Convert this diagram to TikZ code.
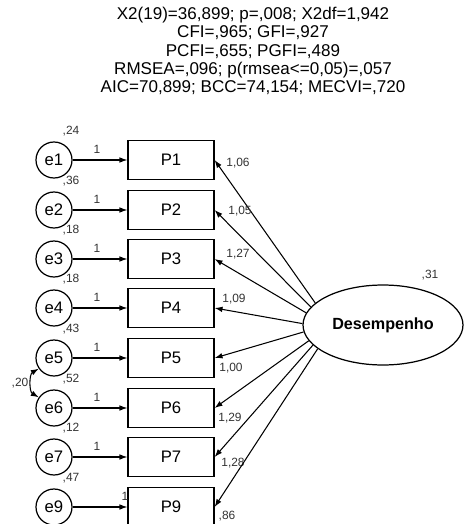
\documentclass[tikz,border=0pt]{standalone}
\usepackage{fontspec}
\setmainfont{Liberation Sans}
\usetikzlibrary{positioning, calc, arrows.meta, shapes.geometric}

\begin{document}
\begin{tikzpicture}[x=0.02cm, y=-0.02cm,
    erro/.style={draw, circle, line width=0.7pt, minimum size=0.72cm, inner sep=0pt, font=\fontsize{9.5}{11}\selectfont},
    item/.style={draw, rectangle, line width=0.7pt, minimum width=1.72cm, minimum height=0.78cm, inner sep=0pt, font=\fontsize{9.5}{11}\selectfont},
    lat/.style={draw, ellipse, line width=0.7pt, minimum width=3.2cm, minimum height=1.6cm, inner sep=0pt, font=\fontsize{9.2}{11}\selectfont\bfseries},
    seta/.style={-{Latex[length=4.5pt, width=3.2pt]}, line width=0.6pt},
    rot/.style={inner sep=0pt, font=\fontsize{6.8}{8}\selectfont, text=black!80}]
    \useasboundingbox (0,0) rectangle (465,524);
    %indices de ajuste
    \node (ajuste) at (253,51) [align=center, font=\fontsize{9.7}{10.3}\selectfont]
        {X2(19)=36,899; p=,008; X2df=1,942\\ CFI=,965; GFI=,927\\ PCFI=,655; PGFI=,489\\
         RMSEA=,096; p(rmsea<=0,05)=,057\\ AIC=70,899; BCC=74,154; MECVI=,720};
    %variavel latente
    \node[lat] (D) at (383,325) {Desempenho};
    \node[rot] (vD) at (430,275) {,31};
    %erros, itens e cargas
    \foreach \i/\y/\v/\c/\cx/\cy/\ux/\a in {1/160/{,24}/{1,06}/238/163/97/162, 2/210/{,36}/{1,05}/240/211/97/166,
        3/259/{,18}/{1,27}/238/254/97/171, 4/308/{,18}/{1,09}/234/299/97/179, 5/358/{,43}/{1,00}/231/368/97/185,
        6/408/{,52}/{1,29}/230/418/97/192, 7/457/{,12}/{1,28}/233/463/97/196, 9/507/{,47}/{,86}/227/516/125/200}{
        \node[erro] (e\i) at (54,\y) {e\i};
        \node[item] (P\i) at (171,\y) {P\i};
        \node[rot] (v\i) at (71,\y-29) {\v};
        \node[rot] (u\i) at (\ux,\y-11) {1};
        \draw[seta] (e\i) -- (P\i);
        \draw[seta] (D.\a) -- (P\i.east);
        \node[rot] (c\i) at (\cx,\cy) {\c};
    }
    %covariancia e5-e6
    \draw[{Latex[length=4.5pt, width=3.2pt]}-{Latex[length=4.5pt, width=3.2pt]}, line width=0.6pt] (e5.215) to[bend right=60] (e6.145);
    \node[rot] (c56) at (20,383) {,20};
\end{tikzpicture}
\end{document}
